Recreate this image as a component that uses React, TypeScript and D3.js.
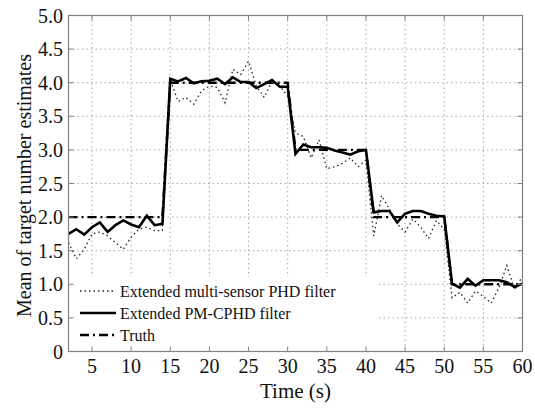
import React from "react";
import * as d3 from "d3";

const times: number[] = d3.range(2, 61);

const pmcphd: number[] = [
  1.75, 1.82, 1.74, 1.85, 1.92, 1.78, 1.88, 1.95, 1.89, 1.85, 2.02, 1.88, 1.90,
  4.06, 4.02, 4.07, 3.99, 4.02, 4.03, 4.06, 3.98, 4.08, 4.01, 4.01, 3.92, 3.98, 4.04, 3.94, 3.94,
  2.94, 3.08, 3.04, 3.04, 3.03, 2.99, 2.96, 2.93, 2.98, 3.0,
  2.07, 2.09, 2.09, 1.92, 2.05, 2.09, 2.09, 2.05, 2.02, 2.01,
  1.01, 0.95, 1.08, 0.98, 1.06, 1.06, 1.06, 1.03, 0.96, 1.01,
];

const phd: number[] = [
  1.62, 1.38, 1.52, 1.75, 1.78, 1.72, 1.62, 1.52, 1.70, 1.82, 1.85, 1.80, 1.80,
  4.05, 3.72, 3.78, 3.68, 3.88, 3.95, 3.93, 3.70, 4.20, 4.12, 4.32, 3.95, 3.78, 4.02, 3.95, 3.80,
  3.25, 3.20, 2.88, 3.15, 2.72, 2.75, 2.80, 2.88, 2.75, 2.85,
  1.72, 2.32, 2.12, 1.90, 1.78, 1.97, 1.85, 1.68, 1.95, 1.82,
  0.80, 0.88, 0.72, 0.90, 0.82, 0.72, 0.95, 1.28, 0.92, 1.12,
];

const truth: number[] = [
  2, 2, 2, 2, 2, 2, 2, 2, 2, 2, 2, 2, 2,
  4, 4, 4, 4, 4, 4, 4, 4, 4, 4, 4, 4, 4, 4, 4, 4,
  3, 3, 3, 3, 3, 3, 3, 3, 3, 3,
  2, 2, 2, 2, 2, 2, 2, 2, 2, 2,
  1, 1, 1, 1, 1, 1, 1, 1, 1, 1,
];

const xTicks: number[] = [5, 10, 15, 20, 25, 30, 35, 40, 45, 50, 55, 60];
const yTicks: number[] = [0, 0.5, 1, 1.5, 2, 2.5, 3, 3.5, 4, 4.5, 5];

const legendLabels: string[] = [
  "Extended multi-sensor PHD filter",
  "Extended PM-CPHD filter",
  "Truth",
];

const FONT = "'Liberation Serif', 'Times New Roman', serif";

export default function App() {
  const W = 535;
  const H = 409;
  const left = 68.5;
  const right = 522.5;
  const top = 15.5;
  const bottom = 351.5;

  const x = d3.scaleLinear().domain([2, 60]).range([left, right]);
  const y = d3.scaleLinear().domain([0, 5]).range([bottom, top]);

  const line = (vals: number[]) =>
    d3
      .line<number>()
      .x((_, i) => x(times[i]))
      .y((v) => y(v))(vals) || "";

  const styles = [
    { stroke: "#222", width: 1.3, dash: "1.5,3" },
    { stroke: "#000", width: 2.6, dash: "none" },
    { stroke: "#000", width: 2.4, dash: "9,4,2,4" },
  ];

  const legendX0 = 80;
  const legendX1 = 116;
  const legendY = [291, 313, 335];

  return (
    <svg
      width={W}
      height={H}
      style={{ position: "absolute", left: 0, top: 0, background: "#fff" }}
      fontFamily={FONT}
    >
      <rect x={0} y={0} width={W} height={H} fill="#fff" />
      {/* grid */}
      {xTicks
        .filter((t) => t < 60)
        .map((t) => (
          <line
            key={"gx" + t}
            x1={x(t)}
            x2={x(t)}
            y1={top}
            y2={bottom}
            stroke="#a8a8a8"
            strokeWidth={1}
            strokeDasharray="1.5,3"
          />
        ))}
      {yTicks
        .filter((t) => t > 0 && t < 5)
        .map((t) => (
          <line
            key={"gy" + t}
            x1={left}
            x2={right}
            y1={y(t)}
            y2={y(t)}
            stroke="#a8a8a8"
            strokeWidth={1}
            strokeDasharray="1.5,3"
          />
        ))}

      {/* data */}
      <path d={line(truth)} fill="none" stroke={styles[2].stroke} strokeWidth={styles[2].width} strokeDasharray={styles[2].dash} />
      <path d={line(phd)} fill="none" stroke={styles[0].stroke} strokeWidth={styles[0].width} strokeDasharray={styles[0].dash} />
      <path d={line(pmcphd)} fill="none" stroke={styles[1].stroke} strokeWidth={styles[1].width} strokeLinejoin="miter" />

      {/* legend */}
      <rect x={left + 0.5} y={277} width={376 - left} height={bottom - 277 - 0.5} fill="#fff" />
      {legendLabels.map((lab, i) => (
        <g key={lab}>
          <line
            x1={legendX0}
            x2={legendX1}
            y1={legendY[i]}
            y2={legendY[i]}
            stroke={styles[i].stroke}
            strokeWidth={styles[i].width}
            strokeDasharray={styles[i].dash}
          />
          <text x={120} y={legendY[i] + 6} fontSize={16} fill="#111">
            {lab}
          </text>
        </g>
      ))}

      {/* frame */}
      <rect x={left} y={top} width={right - left} height={bottom - top} fill="none" stroke="#808080" strokeWidth={1.2} />
      {/* ticks */}
      {xTicks.map((t) => (
        <g key={"tx" + t}>
          <line x1={x(t)} x2={x(t)} y1={bottom} y2={bottom - 5} stroke="#808080" />
          <line x1={x(t)} x2={x(t)} y1={top} y2={top + 5} stroke="#808080" />
          <text x={x(t)} y={373} fontSize={20} textAnchor="middle" fill="#111">
            {t}
          </text>
        </g>
      ))}
      {yTicks.map((t) => (
        <g key={"ty" + t}>
          <line x1={left} x2={left + 5} y1={y(t)} y2={y(t)} stroke="#808080" />
          <line x1={right} x2={right - 5} y1={y(t)} y2={y(t)} stroke="#808080" />
          <text x={63} y={y(t) + 7} fontSize={20} textAnchor="end" fill="#111">
            {t === 0 ? "0" : t.toFixed(1)}
          </text>
        </g>
      ))}

      {/* axis labels */}
      <text x={(left + right) / 2} y={398} fontSize={21} textAnchor="middle" fill="#111">
        Time (s)
      </text>
      <text
        transform={`translate(31,${(top + bottom) / 2 + 2}) rotate(-90)`}
        fontSize={20}
        textAnchor="middle"
        fill="#111"
      >
        Mean of target number estimates
      </text>
    </svg>
  );
}
